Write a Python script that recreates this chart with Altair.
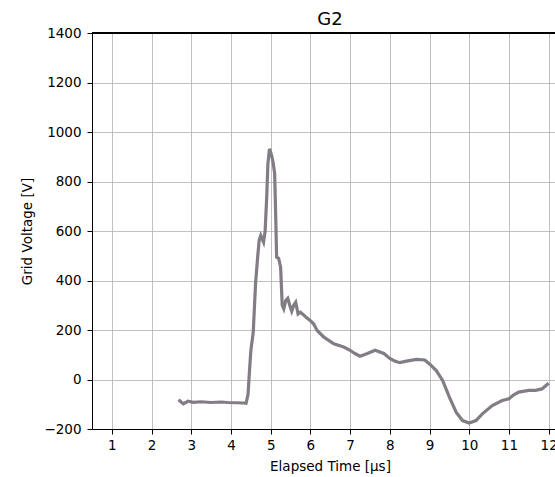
import altair as alt
import pandas as pd

# Elapsed time [µs] and grid voltage [V]
time_us = [2.68, 2.75, 2.80, 2.92, 3.05, 3.25, 3.50, 3.75, 3.92, 4.15, 4.30, 4.38,
           4.43, 4.46, 4.50, 4.56, 4.62, 4.68, 4.71, 4.75, 4.78, 4.82, 4.86, 4.90,
           4.93, 4.97, 5.00, 5.03, 5.06, 5.10, 5.125, 5.15, 5.20, 5.25, 5.29, 5.33,
           5.38, 5.43, 5.48, 5.53, 5.58, 5.63, 5.69, 5.75, 5.82, 5.90, 6.00, 6.08,
           6.17, 6.34, 6.59, 6.84, 7.00, 7.12, 7.25, 7.42, 7.63, 7.85, 8.00, 8.12,
           8.25, 8.42, 8.67, 8.88, 9.00, 9.17, 9.33, 9.50, 9.67, 9.83, 10.00, 10.17,
           10.33, 10.58, 10.83, 11.00, 11.12, 11.25, 11.50, 11.67, 11.83, 12.00]
voltage_v = [-82, -92, -98, -88, -92, -90, -93, -91, -93, -94, -95, -96,
             -60, 20, 117, 190, 390, 510, 562, 582, 570, 555, 600, 737,
             872, 932, 918, 900, 878, 832, 670, 494, 490, 454, 300, 285,
             320, 328, 300, 276, 300, 312, 265, 272, 262, 250, 238, 225,
             198, 171, 144, 131, 118, 105, 94, 104, 118, 105, 85, 75,
             68, 74, 81, 79, 63, 36, -4, -71, -132, -166, -176, -166,
             -139, -105, -85, -78, -62, -51, -44, -44, -38, -15]

x_ticks = list(range(1, 13))
y_ticks = list(range(-200, 1401, 200))
title_text = ["G2"]

df = pd.DataFrame({"t": time_us, "v": voltage_v})

FONT = "DejaVu Sans"

x_scale = alt.Scale(domain=[0.5, 12.16], nice=False, zero=False)
y_scale = alt.Scale(domain=[-200, 1400], nice=False, zero=False)

line = alt.Chart(df).mark_line(color="#827c84", strokeWidth=3.2, clip=True).encode(
    x=alt.X("t:Q", scale=x_scale,
            axis=alt.Axis(values=x_ticks, format="d", title="Elapsed Time [µs]",
                          grid=True, gridColor="#b0b0b0", gridWidth=0.8,
                          domainColor="black", domainWidth=1,
                          tickColor="black", tickSize=5, tickWidth=1,
                          labelFont=FONT, labelFontSize=13.5, labelColor="black",
                          labelPadding=4, labelFlush=False,
                          titleFont=FONT, titleFontSize=13.5, titleFontWeight="normal",
                          titleColor="black", titleX=238, titleY=41,
                          titleBaseline="alphabetic", titleAlign="center")),
    y=alt.Y("v:Q", scale=y_scale,
            axis=alt.Axis(values=y_ticks, format="d", title="Grid Voltage [V]",
                          grid=True, gridColor="#b0b0b0", gridWidth=0.8,
                          domainColor="black", domainWidth=1,
                          tickColor="black", tickSize=5, tickWidth=1,
                          labelFont=FONT, labelFontSize=13.5, labelColor="black",
                          labelPadding=6, labelFlush=False,
                          titleFont=FONT, titleFontSize=13.5, titleFontWeight="normal",
                          titleColor="black", titleX=-65, titleY=198,
                          titleAngle=-90, titleBaseline="middle", titleAlign="center")),
)

# top spine of the axes frame
top_spine = alt.Chart(df).mark_rule(color="black", strokeWidth=1).encode(
    x=alt.value(0), x2=alt.value(463), y=alt.value(0)
)

# chart title, centred over the (wider, cropped) axes frame
title = alt.Chart(pd.DataFrame({"label": title_text})).mark_text(
    font=FONT, fontSize=18, color="black", align="center", baseline="alphabetic"
).encode(x=alt.value(238), y=alt.value(-8), text="label:N")

chart = alt.layer(line, top_spine, title).properties(
    width=463,
    height=396,
    autosize=alt.AutoSizeParams(type="none"),
    padding={"left": 92, "top": 33, "right": 0, "bottom": 48},
).configure_view(stroke=None).configure(background="white")

chart.save("out.html", embed_options={"renderer": "svg", "actions": False})
